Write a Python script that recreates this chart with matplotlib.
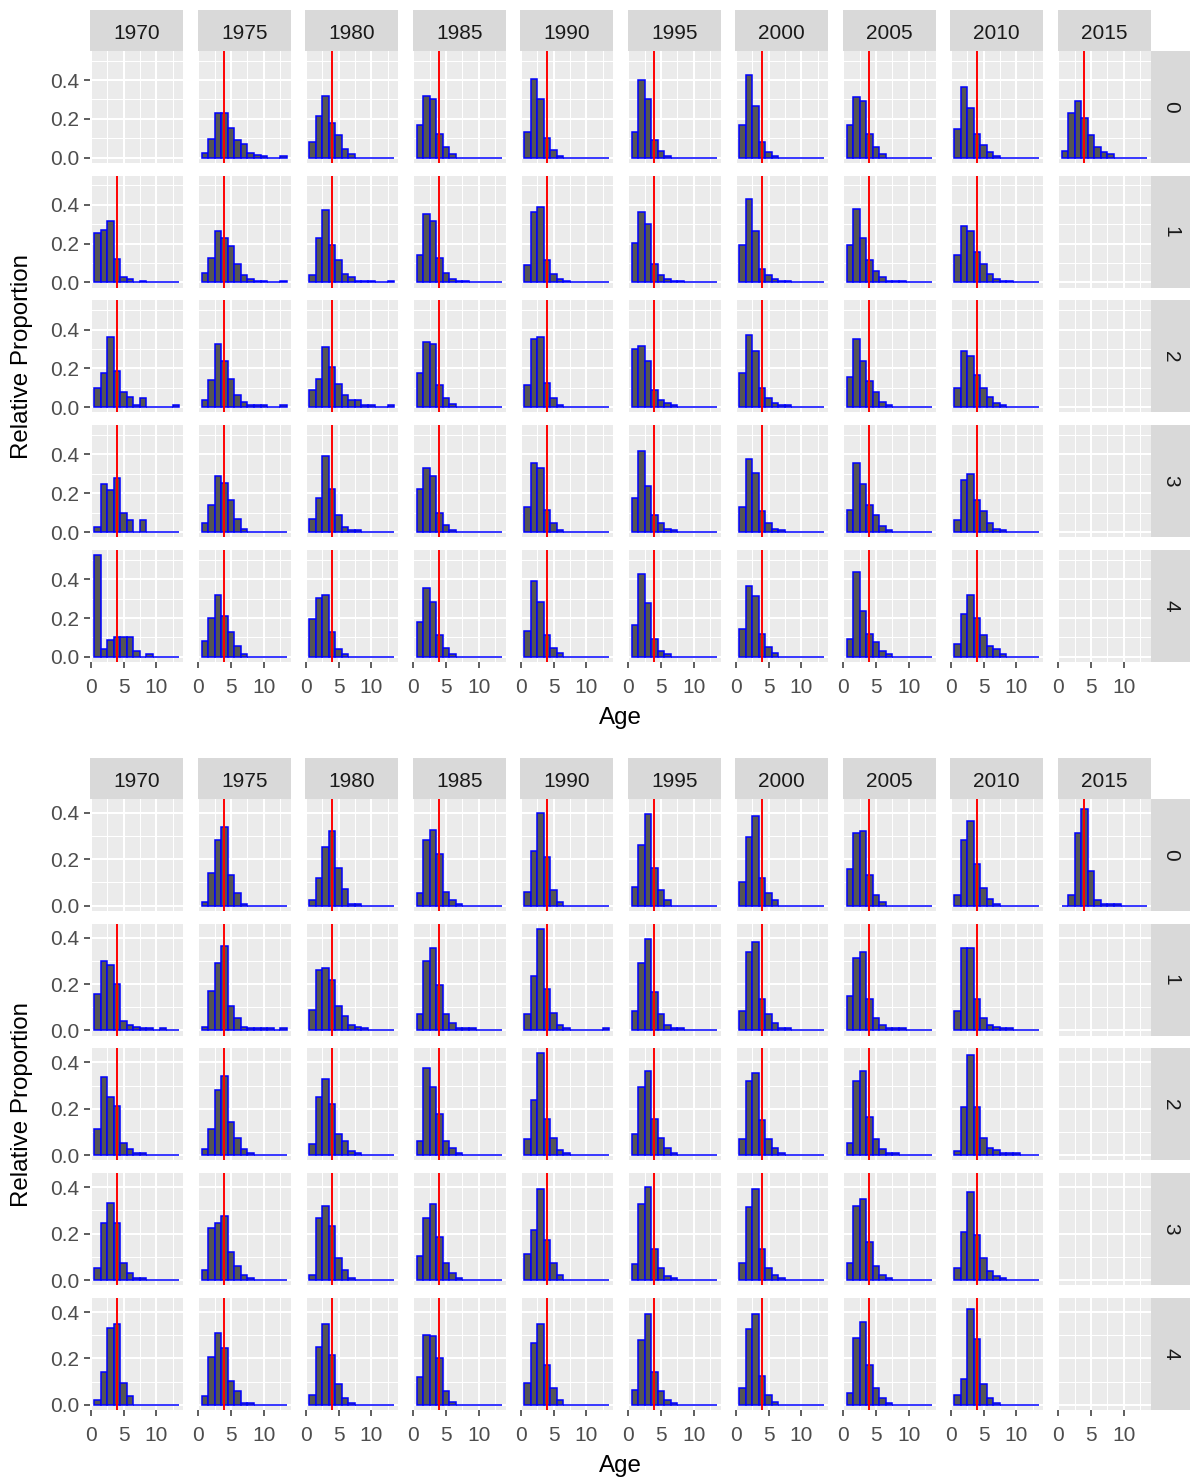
import matplotlib
matplotlib.use("Agg")
import matplotlib.pyplot as plt
from matplotlib.ticker import FixedLocator, FixedFormatter

plt.rcParams['font.family'] = ['Liberation Sans', 'DejaVu Sans']

years = [1970, 1975, 1980, 1985, 1990, 1995, 2000, 2005, 2010, 2015]
ages = list(range(1, 14))
strata = ["0", "1", "2", "3", "4"]
ref_age = 3.95

# Upper survey: relative proportion at ages 1..13, one list per year (None = no sample)
upper_s0 = [
    None,
    [0.026, 0.097, 0.230, 0.230, 0.151, 0.089, 0.071, 0.026, 0.015, 0.009, 0, 0, 0.010],
    [0.080, 0.213, 0.318, 0.179, 0.117, 0.046, 0.020, 0, 0, 0, 0, 0, 0],
    [0.170, 0.318, 0.300, 0.124, 0.054, 0.019, 0, 0, 0, 0, 0, 0, 0],
    [0.133, 0.407, 0.300, 0.099, 0.037, 0.010, 0, 0, 0, 0, 0, 0, 0],
    [0.133, 0.400, 0.300, 0.090, 0.036, 0.010, 0, 0, 0, 0, 0, 0, 0],
    [0.168, 0.424, 0.264, 0.080, 0.027, 0.010, 0, 0, 0, 0, 0, 0, 0],
    [0.168, 0.310, 0.293, 0.124, 0.054, 0.019, 0, 0, 0, 0, 0, 0, 0],
    [0.150, 0.363, 0.257, 0.124, 0.065, 0.027, 0.010, 0, 0, 0, 0, 0, 0],
    [0.034, 0.230, 0.290, 0.204, 0.116, 0.054, 0.027, 0.019, 0, 0, 0, 0, 0],
]
upper_s1 = [
    [0.255, 0.272, 0.318, 0.123, 0.026, 0.017, 0, 0.009, 0, 0, 0, 0, 0],
    [0.051, 0.124, 0.266, 0.230, 0.187, 0.095, 0.036, 0.017, 0.009, 0.009, 0, 0, 0.009],
    [0.036, 0.230, 0.371, 0.192, 0.114, 0.044, 0.027, 0.009, 0.009, 0.009, 0, 0, 0.009],
    [0.141, 0.352, 0.318, 0.124, 0.051, 0.019, 0.009, 0.009, 0, 0, 0, 0, 0],
    [0.089, 0.363, 0.388, 0.116, 0.044, 0.017, 0.009, 0, 0, 0, 0, 0, 0],
    [0.203, 0.363, 0.300, 0.097, 0.036, 0.017, 0.009, 0.009, 0, 0, 0, 0, 0],
    [0.194, 0.432, 0.264, 0.070, 0.036, 0.017, 0.009, 0.009, 0, 0, 0, 0, 0],
    [0.194, 0.380, 0.230, 0.114, 0.061, 0.027, 0.009, 0.009, 0.009, 0, 0, 0, 0],
    [0.141, 0.291, 0.264, 0.158, 0.097, 0.044, 0.017, 0.009, 0.009, 0, 0, 0, 0],
    None,
]
upper_s2 = [
    [0.097, 0.176, 0.362, 0.186, 0.080, 0.054, 0.012, 0.046, 0, 0, 0, 0, 0.012],
    [0.036, 0.140, 0.328, 0.240, 0.147, 0.063, 0.029, 0.012, 0.012, 0.012, 0, 0, 0.012],
    [0.088, 0.147, 0.308, 0.206, 0.122, 0.063, 0.037, 0.037, 0.012, 0.012, 0, 0, 0.012],
    [0.178, 0.337, 0.325, 0.114, 0.046, 0.019, 0, 0, 0, 0, 0, 0, 0],
    [0.114, 0.350, 0.362, 0.125, 0.046, 0.012, 0, 0, 0, 0, 0, 0, 0],
    [0.300, 0.316, 0.237, 0.088, 0.037, 0.020, 0.012, 0, 0, 0, 0, 0, 0],
    [0.178, 0.370, 0.290, 0.097, 0.046, 0.020, 0.012, 0.012, 0, 0, 0, 0, 0],
    [0.156, 0.354, 0.237, 0.134, 0.080, 0.029, 0.012, 0, 0, 0, 0, 0, 0],
    [0.097, 0.290, 0.265, 0.168, 0.097, 0.054, 0.020, 0.012, 0, 0, 0, 0, 0],
    None,
]
upper_s3 = [
    [0.027, 0.245, 0.217, 0.281, 0.097, 0.062, 0, 0.062, 0, 0, 0, 0, 0],
    [0.044, 0.140, 0.289, 0.254, 0.166, 0.069, 0.018, 0, 0, 0, 0, 0, 0],
    [0.069, 0.175, 0.392, 0.220, 0.087, 0.027, 0.010, 0.010, 0, 0, 0, 0, 0],
    [0.220, 0.331, 0.287, 0.097, 0.037, 0.010, 0, 0, 0, 0, 0, 0, 0],
    [0.131, 0.358, 0.331, 0.114, 0.045, 0.010, 0, 0, 0, 0, 0, 0, 0],
    [0.175, 0.420, 0.235, 0.087, 0.045, 0.018, 0.010, 0, 0, 0, 0, 0, 0],
    [0.131, 0.376, 0.306, 0.106, 0.045, 0.018, 0.010, 0, 0, 0, 0, 0, 0],
    [0.114, 0.358, 0.245, 0.141, 0.089, 0.029, 0.010, 0, 0, 0, 0, 0, 0],
    [0.060, 0.270, 0.297, 0.166, 0.106, 0.045, 0.018, 0.010, 0, 0, 0, 0, 0],
    None,
]
upper_s4 = [
    [0.525, 0.038, 0.089, 0.100, 0.100, 0.100, 0.029, 0, 0.012, 0, 0, 0, 0],
    [0.084, 0.200, 0.321, 0.209, 0.126, 0.056, 0.014, 0, 0, 0, 0, 0, 0],
    [0.197, 0.304, 0.321, 0.126, 0.039, 0.014, 0, 0, 0, 0, 0, 0, 0],
    [0.179, 0.357, 0.285, 0.111, 0.046, 0.014, 0, 0, 0, 0, 0, 0, 0],
    [0.135, 0.393, 0.285, 0.111, 0.046, 0.020, 0, 0, 0, 0, 0, 0, 0],
    [0.162, 0.427, 0.277, 0.091, 0.029, 0.014, 0, 0, 0, 0, 0, 0, 0],
    [0.145, 0.364, 0.313, 0.118, 0.048, 0.020, 0, 0, 0, 0, 0, 0, 0],
    [0.091, 0.439, 0.234, 0.118, 0.074, 0.029, 0.014, 0, 0, 0, 0, 0, 0],
    [0.065, 0.222, 0.321, 0.200, 0.111, 0.056, 0.038, 0.014, 0, 0, 0, 0, 0],
    None,
]

# Lower survey
lower_s0 = [
    None,
    [0.016, 0.141, 0.281, 0.341, 0.134, 0.053, 0.009, 0, 0, 0, 0, 0, 0],
    [0.023, 0.119, 0.253, 0.320, 0.163, 0.073, 0.009, 0.009, 0, 0, 0, 0, 0],
    [0.053, 0.281, 0.327, 0.223, 0.059, 0.023, 0.009, 0, 0, 0, 0, 0, 0],
    [0.059, 0.237, 0.401, 0.209, 0.066, 0.016, 0, 0, 0, 0, 0, 0, 0],
    [0.081, 0.260, 0.393, 0.163, 0.066, 0.023, 0, 0, 0, 0, 0, 0, 0],
    [0.103, 0.296, 0.386, 0.119, 0.053, 0.023, 0, 0, 0, 0, 0, 0, 0],
    [0.156, 0.313, 0.320, 0.134, 0.044, 0.016, 0, 0, 0, 0, 0, 0, 0],
    [0.044, 0.281, 0.364, 0.179, 0.074, 0.030, 0.009, 0, 0, 0, 0, 0, 0],
    [0, 0.044, 0.313, 0.416, 0.149, 0.023, 0.009, 0.009, 0.009, 0, 0, 0, 0],
]
lower_s1 = [
    [0.156, 0.299, 0.284, 0.201, 0.039, 0.024, 0.016, 0.009, 0.009, 0, 0.009, 0, 0],
    [0.016, 0.171, 0.291, 0.366, 0.106, 0.053, 0.016, 0.009, 0.009, 0.009, 0.009, 0, 0.009],
    [0.090, 0.260, 0.267, 0.216, 0.106, 0.061, 0.024, 0.016, 0.009, 0, 0, 0, 0],
    [0.069, 0.299, 0.357, 0.194, 0.069, 0.031, 0.009, 0.009, 0.009, 0, 0, 0, 0],
    [0.069, 0.233, 0.439, 0.180, 0.076, 0.024, 0.009, 0, 0, 0, 0, 0, 0.009],
    [0.083, 0.291, 0.396, 0.164, 0.069, 0.024, 0.009, 0.009, 0, 0, 0, 0, 0],
    [0.083, 0.336, 0.380, 0.136, 0.069, 0.031, 0.009, 0.009, 0, 0, 0, 0, 0],
    [0.150, 0.313, 0.336, 0.136, 0.053, 0.024, 0.009, 0.009, 0.009, 0, 0, 0, 0],
    [0.083, 0.357, 0.357, 0.136, 0.053, 0.024, 0.016, 0.009, 0.009, 0, 0, 0, 0],
    None,
]
lower_s2 = [
    [0.111, 0.339, 0.251, 0.214, 0.054, 0.026, 0.009, 0.009, 0, 0, 0, 0, 0],
    [0.026, 0.111, 0.281, 0.341, 0.143, 0.076, 0.026, 0.009, 0, 0, 0, 0, 0],
    [0.047, 0.251, 0.327, 0.221, 0.090, 0.061, 0.019, 0.009, 0, 0, 0, 0, 0],
    [0.061, 0.377, 0.296, 0.179, 0.061, 0.030, 0.009, 0, 0, 0, 0, 0, 0],
    [0.069, 0.239, 0.439, 0.157, 0.076, 0.021, 0.009, 0, 0, 0, 0, 0, 0],
    [0.090, 0.296, 0.363, 0.157, 0.076, 0.030, 0.009, 0, 0, 0, 0, 0, 0],
    [0.069, 0.320, 0.356, 0.150, 0.069, 0.030, 0.009, 0, 0, 0, 0, 0, 0],
    [0.054, 0.320, 0.363, 0.164, 0.069, 0.026, 0.009, 0.009, 0, 0, 0, 0, 0],
    [0.019, 0.207, 0.431, 0.207, 0.076, 0.030, 0.023, 0.009, 0.009, 0.009, 0, 0, 0],
    None,
]
lower_s3 = [
    [0.051, 0.244, 0.334, 0.244, 0.074, 0.031, 0.009, 0.009, 0, 0, 0, 0, 0],
    [0.044, 0.223, 0.244, 0.277, 0.120, 0.060, 0.023, 0.009, 0, 0, 0, 0, 0],
    [0.023, 0.267, 0.320, 0.231, 0.096, 0.044, 0.009, 0, 0, 0, 0, 0, 0],
    [0.104, 0.267, 0.327, 0.186, 0.074, 0.031, 0.009, 0, 0, 0, 0, 0, 0],
    [0.113, 0.216, 0.393, 0.171, 0.074, 0.023, 0, 0, 0, 0, 0, 0, 0],
    [0.069, 0.327, 0.400, 0.134, 0.051, 0.016, 0.009, 0, 0, 0, 0, 0, 0],
    [0.074, 0.313, 0.393, 0.134, 0.051, 0.023, 0.009, 0, 0, 0, 0, 0, 0],
    [0.074, 0.320, 0.349, 0.164, 0.060, 0.023, 0.009, 0, 0, 0, 0, 0, 0],
    [0.051, 0.209, 0.379, 0.194, 0.096, 0.037, 0.016, 0.009, 0, 0, 0, 0, 0],
    None,
]
lower_s4 = [
    [0.021, 0.140, 0.333, 0.349, 0.096, 0.037, 0, 0, 0, 0, 0, 0, 0],
    [0.037, 0.207, 0.311, 0.246, 0.103, 0.059, 0.007, 0.007, 0, 0, 0, 0, 0],
    [0.044, 0.251, 0.349, 0.214, 0.089, 0.030, 0.007, 0, 0, 0, 0, 0, 0],
    [0.119, 0.303, 0.296, 0.200, 0.059, 0.014, 0, 0, 0, 0, 0, 0, 0],
    [0.096, 0.267, 0.347, 0.170, 0.074, 0.021, 0, 0, 0, 0, 0, 0, 0],
    [0.066, 0.281, 0.393, 0.140, 0.059, 0.021, 0.007, 0, 0, 0, 0, 0, 0],
    [0.073, 0.326, 0.393, 0.126, 0.044, 0.014, 0, 0, 0, 0, 0, 0, 0],
    [0.051, 0.289, 0.356, 0.170, 0.073, 0.029, 0.007, 0, 0, 0, 0, 0, 0],
    [0.044, 0.110, 0.414, 0.283, 0.089, 0.029, 0.007, 0, 0, 0, 0, 0, 0],
    None,
]

upper = [upper_s0, upper_s1, upper_s2, upper_s3, upper_s4]
lower = [lower_s0, lower_s1, lower_s2, lower_s3, lower_s4]

# ---- layout (pixels) ----
W, H = 1190, 1484
fig = plt.figure(figsize=(W / 100, H / 100), dpi=100)

PANEL_L, PANEL_W, COL_STEP = 90.0, 93.4, 107.5
STRIP_TOP, STRIP_H = 9.5, 41.2
PANEL_TOP, PANEL_H, ROW_STEP = 50.7, 112.0, 124.8
RSTRIP_W = 40.0

BG = '#EBEBEB'
STRIP_BG = '#D9D9D9'
FILL = '#555555'
EDGE = '#0000FF'
TXT = 15.0


def rect(x, y, w, h):
    return [x / W, 1 - (y + h) / H, w / W, h / H]


def bare_axes(x, y, w, h):
    sa = fig.add_axes(rect(x, y, w, h))
    sa.set_facecolor(STRIP_BG)
    sa.set_xlim(0, w)
    sa.set_ylim(h, 0)
    sa.set_xticks([])
    sa.set_yticks([])
    for s in sa.spines.values():
        s.set_visible(False)
    return sa


def top_strip(x, y, label):
    sa = bare_axes(x, y, PANEL_W, STRIP_H)
    sa.text(PANEL_W / 2, 29.5, label, ha='center', va='baseline',
            fontsize=TXT, color='#1A1A1A')


def side_strip(x, y, label):
    sa = bare_axes(x, y, RSTRIP_W, PANEL_H)
    sa.text(20.0, PANEL_H / 2, label, ha='center', va='center', rotation=-90,
            fontsize=TXT, color='#1A1A1A')


def draw_grid(rows, offset):
    ymax = max(max(v) for row in rows for v in row if v is not None)
    ylim = (-0.05 * ymax, 1.05 * ymax)
    n_rows = len(rows)
    n_cols = len(years)
    right_edge = PANEL_L + (n_cols - 1) * COL_STEP + PANEL_W
    for c, year in enumerate(years):
        top_strip(PANEL_L + c * COL_STEP, offset + STRIP_TOP, str(year))
    for r, row in enumerate(rows):
        top = offset + PANEL_TOP + r * ROW_STEP
        side_strip(right_edge, top, strata[r])
        for c, year in enumerate(years):
            left = PANEL_L + c * COL_STEP
            ax = fig.add_axes(rect(left, top, PANEL_W, PANEL_H))
            ax.set_facecolor(BG)
            ax.set_xlim(-0.15, 14.15)
            ax.set_ylim(*ylim)
            ax.xaxis.set_major_locator(FixedLocator([0, 5, 10]))
            ax.xaxis.set_minor_locator(FixedLocator([2.5, 7.5, 12.5]))
            ax.yaxis.set_major_locator(FixedLocator([0.0, 0.2, 0.4]))
            ax.yaxis.set_minor_locator(FixedLocator([0.1, 0.3, 0.5]))
            ax.xaxis.set_major_formatter(FixedFormatter(['0', '5', '10']))
            ax.yaxis.set_major_formatter(FixedFormatter(['0.0', '0.2', '0.4']))
            ax.grid(which='major', color='white', lw=1.5)
            ax.grid(which='minor', color='white', lw=0.75)
            ax.set_axisbelow(True)
            for s in ax.spines.values():
                s.set_visible(False)
            ax.tick_params(which='minor', length=0)
            ax.tick_params(which='major', length=4, width=1.1, color='#333333',
                           labelsize=TXT, labelcolor='#4D4D4D')
            ax.tick_params(axis='x', pad=7.5)
            ax.tick_params(axis='y', pad=3.5)
            if c != 0:
                ax.tick_params(axis='y', left=False, labelleft=False)
            if r != n_rows - 1:
                ax.tick_params(axis='x', bottom=False, labelbottom=False)
            vals = row[c]
            if vals is not None:
                ax.bar(ages, vals, width=1.0, color=FILL, edgecolor=EDGE,
                       linewidth=1.1, zorder=2)
                ax.axvline(ref_age, color='#FF0000', lw=1.4, zorder=3)
    block_top = offset + PANEL_TOP
    block_bot = offset + PANEL_TOP + (n_rows - 1) * ROW_STEP + PANEL_H
    fig.text(22 / W, 1 - (block_top + block_bot) / 2 / H, 'Relative Proportion',
             rotation=90, ha='center', va='center', fontsize=17.4, color='black')
    cx = (right_edge + PANEL_L) / 2
    fig.text(cx / W, 1 - (offset + 718) / H, 'Age', ha='center', va='center',
             fontsize=17.4, color='black')


draw_grid(upper, 0)
draw_grid(lower, 748)

fig.savefig('out.png', dpi=100, facecolor='white')
